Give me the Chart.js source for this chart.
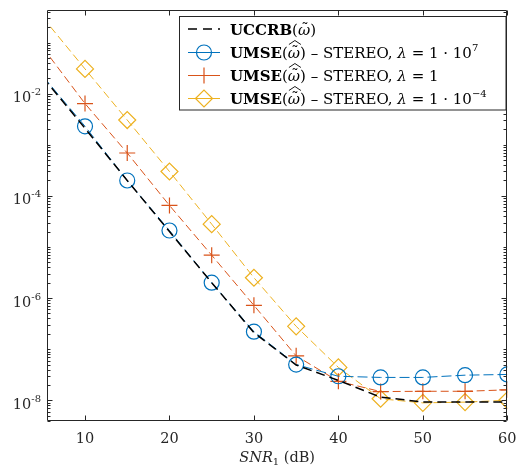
<!DOCTYPE html>
<html>
<head>
<meta charset="utf-8">
<script src="https://cdn.jsdelivr.net/npm/chart.js@4.4.1/dist/chart.umd.min.js"></script>
<style>
  html, body { margin: 0; padding: 0; background: #fff; }
</style>
</head>
<body>
<canvas id="grafico" width="517" height="470"></canvas>
<script>
// SNR_1 (dB) sample points
var snr = [5, 10, 15, 20, 25, 30, 35, 40, 45, 50, 55, 60];
// bound and the three STEREO curves
var uccrb    = [2.1e-2, 2.1e-3, 2.0e-4, 2.0e-5, 2.0e-6, 2.1e-7, 4.9e-8, 2.45e-8, 1.15e-8, 9.3e-9, 9.2e-9, 9.2e-9];
var umseL7   = [2.2e-2, 2.3e-3, 2.0e-4, 2.1e-5, 2.0e-6, 2.2e-7, 5.0e-8, 2.95e-8, 2.8e-8, 2.8e-8, 3.1e-8, 3.2e-8];
var umseL0   = [8.0e-2, 6.4e-3, 6.9e-4, 6.5e-5, 6.9e-6, 7.2e-7, 7.4e-8, 2.35e-8, 1.48e-8, 1.5e-8, 1.5e-8, 1.6e-8];
var umseLm4  = [3.1e-1, 3.05e-2, 3.05e-3, 3.0e-4, 2.8e-5, 2.5e-6, 2.8e-7, 4.4e-8, 1.07e-8, 8.9e-9, 9.2e-9, 1.0e-8];

var xTicks = [10, 20, 30, 40, 50, 60];
var yTicks = [1e-8, 1e-6, 1e-4, 1e-2];
var yTickExp = ['-8', '-6', '-4', '-2'];

// legend texts: [text, kind]  b = bold, n = normal, i = italic, s = superscript,
// t = omega with tilde, th = omega with tilde and wide hat
var nombres = [
  [['UCCRB', 'b'], ['(', 'n'], ['ω', 't'], [')', 'n']],
  [['UMSE', 'b'], ['(', 'n'], ['ω', 'th'], [') – STEREO, ', 'n'], ['λ', 'i'], [' = 1 · 10', 'n'], ['7', 's']],
  [['UMSE', 'b'], ['(', 'n'], ['ω', 'th'], [') – STEREO, ', 'n'], ['λ', 'i'], [' = 1', 'n']],
  [['UMSE', 'b'], ['(', 'n'], ['ω', 'th'], [') – STEREO, ', 'n'], ['λ', 'i'], [' = 1 · 10', 'n'], ['−4', 's']]
];

var AZUL = '#0072BD', ROJO = '#D95319', AMARILLO = '#EDB120';
var SERIF = '"DejaVu Serif", "Liberation Serif", serif';
var TAM = 14.5;     // axis text
var TAM_LEY = 15;   // legend text

function serie(label, valores, color, estilo, radio, ancho, guion) {
  return {
    label: label,
    data: snr.map(function (x, i) { return { x: x, y: valores[i] }; }),
    borderColor: color,
    backgroundColor: 'transparent',
    borderWidth: ancho,
    borderDash: guion,
    pointStyle: estilo,
    pointRadius: function (c) { return c.dataIndex === 0 ? 0 : radio; },
    pointHoverRadius: 0,
    pointBorderColor: color,
    pointBackgroundColor: 'transparent',
    pointBorderWidth: 1.2,
    fill: false,
    tension: 0
  };
}

function fuente(kind, tam) {
  if (kind === 'b') return 'bold ' + tam + 'px ' + SERIF;
  if (kind === 'i' || kind === 't' || kind === 'th') return 'italic ' + tam + 'px ' + SERIF;
  if (kind === 's') return '10px ' + SERIF;
  return tam + 'px ' + SERIF;
}

function dibujarTexto(ctx, partes, x, y) {
  ctx.textAlign = 'left';
  ctx.textBaseline = 'alphabetic';
  partes.forEach(function (p) {
    ctx.font = fuente(p[1], TAM_LEY);
    ctx.fillText(p[0], x, p[1] === 's' ? y - 7 : y);
    var w = ctx.measureText(p[0]).width;
    if (p[1] === 't' || p[1] === 'th') {
      var cx = x + w / 2 + 1;
      ctx.save();
      ctx.font = TAM_LEY + 'px ' + SERIF;
      ctx.textAlign = 'center';
      ctx.fillText('˜', cx, y - 1);
      if (p[1] === 'th') {
        ctx.strokeStyle = ctx.fillStyle;
        ctx.lineWidth = 0.9;
        ctx.beginPath();
        ctx.moveTo(cx - 6, y - 13.5);
        ctx.lineTo(cx, y - 17.5);
        ctx.lineTo(cx + 6, y - 13.5);
        ctx.stroke();
      }
      ctx.restore();
    }
    x += w;
  });
  return x;
}

function marcador(ctx, tipo, color, x, y) {
  ctx.save();
  ctx.strokeStyle = color;
  ctx.lineWidth = 1.2;
  ctx.setLineDash([]);
  ctx.beginPath();
  if (tipo === 'circle') {
    ctx.arc(x, y, 7.5, 0, Math.PI * 2);
  } else if (tipo === 'cross') {
    ctx.moveTo(x - 8, y); ctx.lineTo(x + 8, y);
    ctx.moveTo(x, y - 8); ctx.lineTo(x, y + 8);
  } else if (tipo === 'rectRot') {
    ctx.moveTo(x - 8.5, y); ctx.lineTo(x, y - 8.5);
    ctx.lineTo(x + 8.5, y); ctx.lineTo(x, y + 8.5);
    ctx.closePath();
  }
  ctx.stroke();
  ctx.restore();
}

var marco = {
  id: 'marco',
  afterDatasetsDraw: function (chart) {
    var ctx = chart.ctx, a = chart.chartArea;
    var sx = chart.scales.x, sy = chart.scales.y;
    var L = Math.round(a.left) + 0.5, R = Math.round(a.right) - 0.5;
    var T = Math.round(a.top) + 0.5, B = Math.round(a.bottom) - 0.5;
    ctx.save();
    ctx.strokeStyle = '#262626';
    ctx.lineWidth = 1;
    ctx.beginPath();
    ctx.rect(L, T, R - L, B - T);
    // x ticks (inward, bottom and top)
    xTicks.forEach(function (v) {
      var px = Math.round(sx.getPixelForValue(v)) + 0.5;
      ctx.moveTo(px, B); ctx.lineTo(px, B - 5);
      ctx.moveTo(px, T); ctx.lineTo(px, T + 5);
    });
    // y ticks, major and minor (inward, left and right)
    for (var d = -9; d <= 0; d++) {
      for (var m = 1; m <= 9; m++) {
        var v = m * Math.pow(10, d);
        if (v < sy.min || v > sy.max) continue;
        var mayor = m === 1 && d % 2 === 0;
        var len = mayor ? 5 : 3;
        var py = Math.round(sy.getPixelForValue(v)) + 0.5;
        ctx.moveTo(L, py); ctx.lineTo(L + len, py);
        ctx.moveTo(R, py); ctx.lineTo(R - len, py);
      }
    }
    ctx.stroke();

    // y tick labels 10^n
    ctx.fillStyle = '#262626';
    yTicks.forEach(function (v, i) {
      var py = sy.getPixelForValue(v);
      ctx.font = TAM + 'px ' + SERIF;
      var w1 = ctx.measureText('10').width;
      ctx.font = '10px ' + SERIF;
      var w2 = ctx.measureText(yTickExp[i]).width;
      var x0 = a.left - 6 - w1 - w2;
      ctx.textAlign = 'left';
      ctx.textBaseline = 'alphabetic';
      ctx.font = TAM + 'px ' + SERIF;
      ctx.fillText('10', x0, py + 8.5);
      ctx.font = '10px ' + SERIF;
      ctx.fillText(yTickExp[i], x0 + w1, py + 1.5);
    });

    // x axis title
    var partes = [['SNR', 'i'], ['1', 'sub'], [' (dB)', 'n']];
    var total = 0;
    partes.forEach(function (p) {
      ctx.font = p[1] === 'sub' ? '10px ' + SERIF : fuente(p[1], TAM);
      total += ctx.measureText(p[0]).width;
    });
    var xt = (a.left + a.right) / 2 - total / 2;
    partes.forEach(function (p) {
      ctx.font = p[1] === 'sub' ? '10px ' + SERIF : fuente(p[1], TAM);
      ctx.fillText(p[0], xt, p[1] === 'sub' ? 465 : 462);
      xt += ctx.measureText(p[0]).width;
    });

    // legend
    var bx = 179.5, by = 16.5, bw = 326.5, bh = 93.5;
    ctx.fillStyle = '#fff';
    ctx.fillRect(bx, by, bw, bh);
    ctx.strokeStyle = '#262626';
    ctx.strokeRect(bx, by, bw, bh);
    var filas = [29, 52.5, 75.5, 98.5];
    chart.data.datasets.forEach(function (ds, i) {
      var yf = filas[i];
      ctx.save();
      ctx.strokeStyle = ds.borderColor;
      ctx.lineWidth = ds.borderWidth;
      ctx.setLineDash(i === 0 ? [9, 6] : []);
      ctx.beginPath();
      ctx.moveTo(188, yf); ctx.lineTo(220, yf);
      ctx.stroke();
      ctx.restore();
      if (i > 0) marcador(ctx, ds.pointStyle, ds.borderColor, 204, yf);
      ctx.fillStyle = '#000';
      dibujarTexto(ctx, nombres[i], 230, yf + 5.5);
    });
    ctx.restore();
  }
};

new Chart(document.getElementById('grafico'), {
  type: 'line',
  data: {
    datasets: [
      serie('UCCRB', uccrb, '#000000', 'circle', 0, 1.5, [9, 5]),
      serie('UMSE λ=1e7', umseL7, AZUL, 'circle', 7.5, 1, [10, 4]),
      serie('UMSE λ=1', umseL0, ROJO, 'cross', 8, 1, [8, 4]),
      serie('UMSE λ=1e-4', umseLm4, AMARILLO, 'rectRot', 8.5, 1, [8, 4])
    ]
  },
  plugins: [marco],
  options: {
    responsive: false,
    animation: false,
    events: [],
    layout: { padding: { top: 5, right: 5, left: 0, bottom: 0 } },
    plugins: { legend: { display: false }, tooltip: { enabled: false } },
    scales: {
      x: {
        type: 'linear',
        min: 5.5, max: 60,
        grid: { display: false, drawTicks: false },
        border: { display: false },
        ticks: { font: { family: SERIF, size: TAM }, color: '#262626', padding: 10 },
        afterBuildTicks: function (s) { s.ticks = xTicks.map(function (v) { return { value: v }; }); },
        afterFit: function (s) { s.height = 49; s.paddingLeft = 0; s.paddingRight = 0; }
      },
      y: {
        type: 'logarithmic',
        min: 3.93e-9, max: 0.44,
        bounds: 'data',
        grid: { display: false, drawTicks: false },
        border: { display: false },
        ticks: { display: false },
        afterBuildTicks: function (s) { s.ticks = yTicks.map(function (v) { return { value: v }; }); },
        afterFit: function (s) { s.width = 47; }
      }
    }
  }
});
</script>
</body>
</html>
